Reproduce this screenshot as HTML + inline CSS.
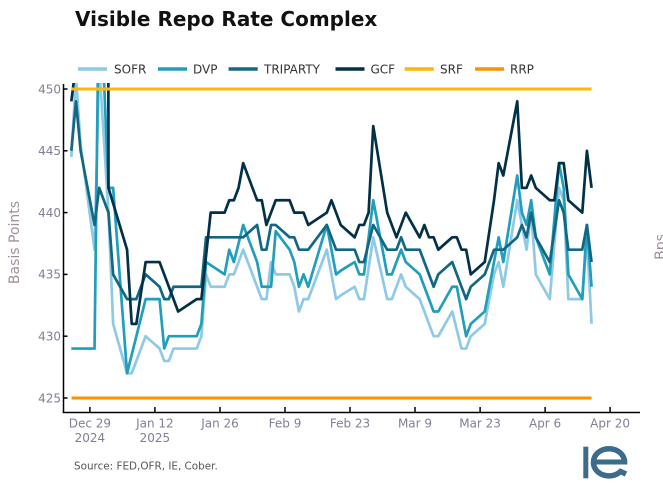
<!DOCTYPE html>
<html><head><meta charset="utf-8"><title>Visible Repo Rate Complex</title>
<style>
html,body{margin:0;padding:0;background:#fff;}
svg{display:block;}
text{font-family:"DejaVu Sans","Liberation Sans",sans-serif;}
</style></head><body>
<svg width="663" height="500" viewBox="0 0 663 500" xmlns="http://www.w3.org/2000/svg">
<defs><clipPath id="c"><rect x="64" y="83" width="580" height="329"/></clipPath></defs>
<rect width="663" height="500" fill="#fff"/>

<!-- Title -->
<text x="75" y="26" font-size="20" font-weight="bold" fill="#111">Visible Repo Rate Complex</text>

<!-- Legend -->
<g stroke-width="3.5" fill="none">
<line x1="78" y1="69" x2="107" y2="69" stroke="#8ecae6"/>
<line x1="158" y1="69" x2="187" y2="69" stroke="#219ebc"/>
<line x1="228.6" y1="69" x2="257.7" y2="69" stroke="#126782"/>
<line x1="335.5" y1="69" x2="364.5" y2="69" stroke="#023047"/>
<line x1="404.7" y1="69" x2="433.8" y2="69" stroke="#ffb703"/>
<line x1="475" y1="69" x2="504" y2="69" stroke="#fb9200"/>
</g>
<g font-size="12" fill="#333">
<text x="114" y="73.4">SOFR</text>
<text x="193" y="73.4">DVP</text>
<text x="264" y="73.4">TRIPARTY</text>
<text x="370.5" y="73.4">GCF</text>
<text x="440" y="73.4">SRF</text>
<text x="510" y="73.4">RRP</text>
</g>

<!-- Axis titles -->
<text transform="translate(19,242.5) rotate(-90)" text-anchor="middle" font-size="14" fill="#9f8f9c">Basis Points</text>
<text transform="translate(665,247) rotate(-90)" text-anchor="middle" font-size="14" fill="#9f8f9c">Bps</text>

<!-- Y tick labels -->
<g font-size="12" fill="#7f7f96" text-anchor="end">
<text x="61" y="93.3">450</text>
<text x="61" y="155.1">445</text>
<text x="61" y="216.9">440</text>
<text x="61" y="278.7">435</text>
<text x="61" y="340.5">430</text>
<text x="61" y="402.3">425</text>
</g>

<!-- X tick labels -->
<g font-size="12" fill="#7f7f96" text-anchor="middle">
<text x="89.9" y="427.5">Dec 29</text>
<text x="89.9" y="442">2024</text>
<text x="154.9" y="427.5">Jan 12</text>
<text x="154.9" y="442">2025</text>
<text x="220" y="427.5">Jan 26</text>
<text x="285" y="427.5">Feb 9</text>
<text x="350" y="427.5">Feb 23</text>
<text x="415" y="427.5">Mar 9</text>
<text x="480.1" y="427.5">Mar 23</text>
<text x="545.1" y="427.5">Apr 6</text>
<text x="610.1" y="427.5">Apr 20</text>
</g>

<!-- Axes -->
<g stroke="#000" stroke-width="1.5" fill="none">
<line x1="63.5" y1="84" x2="63.5" y2="413"/>
<line x1="62.8" y1="412.5" x2="640" y2="412.5"/>
<line x1="63.5" y1="89" x2="67.5" y2="89"/>
<line x1="63.5" y1="150.8" x2="67.5" y2="150.8"/>
<line x1="63.5" y1="212.6" x2="67.5" y2="212.6"/>
<line x1="63.5" y1="274.4" x2="67.5" y2="274.4"/>
<line x1="63.5" y1="336.2" x2="67.5" y2="336.2"/>
<line x1="63.5" y1="398" x2="67.5" y2="398"/>
<line x1="89.9" y1="407" x2="89.9" y2="412.5"/>
<line x1="154.9" y1="407" x2="154.9" y2="412.5"/>
<line x1="220" y1="407" x2="220" y2="412.5"/>
<line x1="285" y1="407" x2="285" y2="412.5"/>
<line x1="350" y1="407" x2="350" y2="412.5"/>
<line x1="415" y1="407" x2="415" y2="412.5"/>
<line x1="480.1" y1="407" x2="480.1" y2="412.5"/>
<line x1="545.1" y1="407" x2="545.1" y2="412.5"/>
<line x1="610.1" y1="407" x2="610.1" y2="412.5"/>
</g>

<!-- Series -->
<g clip-path="url(#c)">
<g transform="matrix(4.645 0 0 -12.36 89.9 5651)" fill="none" stroke-linejoin="round">
<polyline vector-effect="non-scaling-stroke" stroke="#8ecae6" stroke-width="2.7" points="-4,444.5 -3,451 -2,445.5 1,437 2,452 4,440 5,431 8,427 9,427 12,430 15,429 16,428 17,428 18,429 23,429 24,430 25,435 26,434 29,434 30,435 31,435 32,436 33,437 36,434 37,433 38,433 39,436 40,435 43,435 44,434 45,432 46,433 47,433 51,437 52,435 53,433 54,433.3 57,434 58,433 59,433 61,438 64,433 65,433 67,435 68,434 71,433 74,430 75,430 78,432 80,429 81,429 82,430 85,431 86,433 87,435 88,436 89,434 92,441 93,439 94,437 95,440 96,435 99,433 101,442 102,441 103,433 106,433 107,438 108,431"/>
<polyline vector-effect="non-scaling-stroke" stroke="#219ebc" stroke-width="2.7" points="-4,429 1,429 2,460 4,442 5,442 8,427 12,433 15,433 16,429 17,430 23,430 24,431 25,436 29,435 30,437 31,436 33,439 36,436 37,434 39,434 40,438.5 43,437 44,436 45,434 46,435 47,434 51,439 53,435 54,435.3 57,436 58,435 59,435 61,441 64,435 65,435 67,437 68,436 71,435 74,432 75,432 78,434 79,434 81,430 82,431 85,432 87,436 88,438 89,436 92,443 93,440 94,439 95,441 96,438 99,435 101,444 102,442 103,435 106,433 107,439 108,434"/>
<polyline vector-effect="non-scaling-stroke" stroke="#126782" stroke-width="2.7" points="-4,445 -3,449 -2,445 1,439 2,442 4,440 5,435 8,433 10,433 12,435 15,434 16,433 17,433 18,434 24,434 25,438 33,438 36,439 37,437 38,437 39,439 40,439 43,438 44,438 45,437 47,437 51,439 53,437 57,437 58,436 59,436 61,439 64,437 66,437 67,438 68,437 71,437 74,434 75,435 78,436 81,433 82,434 85,435 87,437 89,437 92,438 93,439 94,438 95,440 96,438 99,436 101,441 102,440 103,437 106,437 107,439 108,436"/>
<polyline vector-effect="non-scaling-stroke" stroke="#023047" stroke-width="2.7" points="-4,449 -3,452 -2,480 3.9,480 4,442 8,437 9,431 10,431 12,436 15,436 19,432 23,433 24,433 26,440 29,440 30,441 31,441 32,442 33,444 36,441 37,441 38,439 40,441 43,441 44,440 46,440 47,439 51,440 52,441 54,439 57,438 58,439 59,439 60,440 61,447 64,440 66,438 68,440 71,438 72,439 73,438 74,438 75,437 78,438 79,438 80,437 81,437 82,435 85,436 86,438.5 87,441 88,444 89,443 92,449 93,442 94,442 95,443 96,442 99,441 100,441 101,444 102,444 103,441 106,440 107,445 108,442"/>
<polyline vector-effect="non-scaling-stroke" stroke="#ffb703" stroke-width="3" points="-3.95,450 108,450"/>
<polyline vector-effect="non-scaling-stroke" stroke="#fb9200" stroke-width="3" points="-3.95,425 108,425"/>
</g>
</g>

<!-- Source -->
<text x="74" y="469.3" font-size="10.4" fill="#555">Source: FED,OFR, IE, Cober.</text>

<!-- IE logo -->
<g fill="none" stroke="#3b6c8c" stroke-width="5.5">
<path d="M593.5,462 A15.5,13.3 0 0 1 624.5,462"/>
<path d="M593.5,462 A15.5,13.3 0 0 0 620.5,471.5 L626,474"/>
</g>
<rect x="583.3" y="446.7" width="5" height="31.6" fill="#3b6c8c"/>
<rect x="593" y="459.5" width="34.3" height="5" fill="#3b6c8c"/>
</svg>
</body></html>
